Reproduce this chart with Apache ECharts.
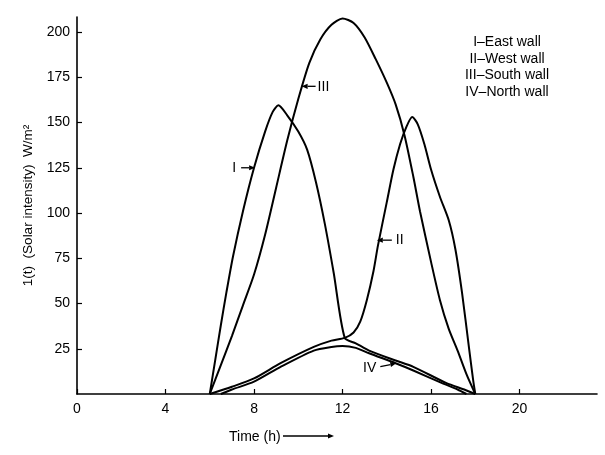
<!DOCTYPE html>
<html><head><meta charset="utf-8">
<script src="https://cdn.jsdelivr.net/npm/echarts@6/dist/echarts.min.js"></script>
<style>html,body{margin:0;padding:0;background:#fff}#c{width:605px;height:455px}</style>
</head><body><div id="c"></div>
<script>
// ---- data (hours, W/m^2) ----
const xTicks = [0, 4, 8, 12, 16, 20];
const yTicks = [25, 50, 75, 100, 125, 150, 175, 200];
const legendLines = ['I–East wall', 'II–West wall', 'III–South wall', 'IV–North wall'];

const eastMorning = [[6,0],[6.25,19],[6.5,38],[6.75,56],[7.05,76],[7.5,101],[8,125],[8.5,145],[8.85,156],[9.1,159.5],[9.5,154],[10,145],[10.4,135],[10.8,117],[11.2,94],[11.6,67],[12.1,31]];
const diffuseMorning = [[6,0],[7,4],[8,8.6],[9.2,17],[10.7,26],[11.5,29.5],[12.1,31]];
const diffuseAfternoon = [[12.1,31],[12.6,28],[13.2,24],[14.4,18.5],[15.2,15],[16.7,6],[17.5,2.5],[18,0]];
const westAfternoon = [[12.1,31],[12.5,34],[12.8,40],[13.1,52],[13.4,68],[13.6,82],[14,106],[14.3,124],[14.6,138],[14.9,148],[15.15,153],[15.4,149],[15.7,138],[16,124],[16.4,109],[16.8,96],[17.1,80],[17.4,56],[17.7,27],[17.9,8],[18,0]];
const southWall = [[6,0],[6.5,16],[7,32],[7.5,49],[8,66],[8.5,88],[9,114],[9.5,140],[10,163],[10.5,183],[11,196],[11.5,204],[12,207.5],[12.5,205],[13,197],[13.5,185],[14,172],[14.4,160],[14.8,143],[15.2,120],[15.5,101],[16,73],[16.4,52],[16.8,36],[17.2,24],[17.6,11],[18,0]];
const northWall = [[6.5,0],[7,2.5],[8,6.8],[9.2,15],[10.7,24],[11.5,26],[12,26.5],[12.6,25.5],[13.2,22.5],[14.4,17],[15.2,13],[16.5,6],[17.2,2.5],[17.6,0]];

// annotation anchors on the curves (data coords)
const annI = [8.05, 125], annII = [13.55, 85], annIII = [10.15, 170], annIV = [14.43, 17];

const FONT = "'Liberation Sans', Arial, Helvetica, sans-serif";
const eastWall = eastMorning.concat(diffuseAfternoon.slice(1));
const westWall = diffuseMorning.concat(westAfternoon.slice(1));

const chart = echarts.init(document.getElementById('c'), null, {renderer: 'canvas'});
const lineSeries = (name, data) => ({
  name, type: 'line', data, smooth: 0.25, symbol: 'none', clip: false,
  lineStyle: {color: '#000', width: 2}, animation: false
});
chart.setOption({
  animation: false,
  backgroundColor: '#fff',
  grid: {left: 77, right: 8, top: 17, bottom: 61},
  xAxis: {
    type: 'value', min: 0, max: 23.5,
    axisLine: {lineStyle: {color: '#000', width: 1.6}},
    axisTick: {inside: true, length: 5, customValues: xTicks, lineStyle: {color: '#000', width: 1.2}},
    axisLabel: {customValues: xTicks, color: '#000', fontSize: 14, fontFamily: FONT, margin: 8},
    splitLine: {show: false}
  },
  yAxis: {
    type: 'value', min: 0, max: 208.3,
    name: '1(t)  (Solar intensity)  W/m²', nameLocation: 'middle', nameGap: 42, nameRotate: 90,
    nameTextStyle: {color: '#000', fontSize: 13.5, fontFamily: FONT},
    axisLine: {show: true, lineStyle: {color: '#000', width: 1.6}},
    axisTick: {show: true, inside: true, length: 5, customValues: yTicks, lineStyle: {color: '#000', width: 1.2}},
    axisLabel: {customValues: yTicks, color: '#000', fontSize: 14, fontFamily: FONT, margin: 7},
    splitLine: {show: false}
  },
  series: [
    lineSeries('I–East wall', eastWall),
    lineSeries('II–West wall', westWall),
    lineSeries('III–South wall', southWall),
    lineSeries('IV–North wall', northWall)
  ]
});

function px(p) { return chart.convertToPixel({gridIndex: 0}, p); }
function arrow(x1, y1, x2, y2) {
  const a = Math.atan2(y2 - y1, x2 - x1), L = 6, W = 2.6;
  const bx = x2 - L * Math.cos(a), by = y2 - L * Math.sin(a);
  return [
    {type: 'line', shape: {x1, y1, x2: bx, y2: by}, style: {stroke: '#000', lineWidth: 1.3}},
    {type: 'polygon', shape: {points: [[x2, y2], [bx - W * Math.sin(a), by + W * Math.cos(a)], [bx + W * Math.sin(a), by - W * Math.cos(a)]]}, style: {fill: '#000'}}
  ];
}
const txt = (text, x, y, align) => ({type: 'text', x, y, style: {text, fill: '#000', font: '14px ' + FONT, textAlign: align, textVerticalAlign: 'middle'}});

const g = [];
let p = px(annI);
g.push(...arrow(p[0] - 14, p[1], p[0], p[1]), txt('I', p[0] - 19, p[1], 'right'));
p = px(annIII);
g.push(...arrow(p[0] + 14, p[1], p[0], p[1]), txt('III', p[0] + 16, p[1] + 1, 'left'));
p = px(annII);
g.push(...arrow(p[0] + 15, p[1], p[0], p[1]), txt('II', p[0] + 19, p[1], 'left'));
p = px(annIV);
g.push(...arrow(p[0] - 16, p[1] + 3.5, p[0], p[1]), txt('IV', p[0] - 20, p[1] + 5, 'right'));
// legend block
legendLines.forEach((s, i) => g.push(txt(s, 507, 42 + i * 16.8, 'center')));
// x-axis title with arrow
g.push(txt('Time (h)', 229, 437, 'left'));
g.push(...arrow(283, 436, 334, 436));
chart.setOption({graphic: {elements: g}});
</script>
</body></html>
